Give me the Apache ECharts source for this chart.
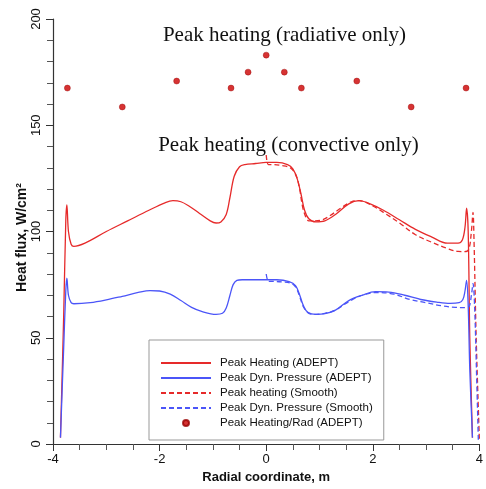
<!DOCTYPE html>
<html>
<head>
<meta charset="utf-8">
<script src="https://cdn.jsdelivr.net/npm/echarts@6/dist/echarts.min.js"></script>
<style>html,body{margin:0;padding:0;background:#fff;}#c{width:486px;height:489px;}</style>
</head>
<body>
<div id="c"></div>
<script>
// Peak Heating (ADEPT)
const heatAdeptX = [-3.86,-3.80,-3.76,-3.74,-3.71,-3.66,-3.61,-3.4,-3.0,-2.6,-2.2,-1.9,-1.75,-1.6,-1.45,-1.25,-1.05,-0.94,-0.85,-0.75,-0.68,-0.6,-0.5,-0.4,-0.2,0.0,0.2,0.4,0.5,0.58,0.65,0.72,0.8,0.93,1.1,1.3,1.55,1.74,1.95,2.2,2.5,2.8,3.1,3.4,3.6,3.68,3.73,3.76,3.79,3.82,3.87];
const heatAdeptY = [3,60,105,112.5,100,94,93,94.5,100,105,110,113.5,114.5,114,112,108.5,105,104,104.5,108,116,126,130.5,131.5,132,132.5,132.5,131.5,129.5,125,118,110,106,104.5,105,108,113,114.5,113,110,105.5,101,97.5,94.5,94.5,96,102,111,100,50,3];
// Peak Dyn. Pressure (ADEPT)
const presAdeptX = [-3.86,-3.80,-3.76,-3.74,-3.71,-3.66,-3.61,-3.3,-3.0,-2.7,-2.4,-2.18,-2.0,-1.8,-1.6,-1.4,-1.2,-0.94,-0.82,-0.75,-0.68,-0.62,-0.55,-0.45,-0.2,0.0,0.2,0.43,0.55,0.63,0.7,0.78,0.93,1.1,1.3,1.55,1.8,2.05,2.3,2.6,2.9,3.2,3.45,3.62,3.69,3.73,3.76,3.79,3.82,3.87];
const presAdeptY = [3,45,72,78,70,66.5,66,66.5,67.8,69.5,71.3,72.2,72,70.5,67.5,64.3,62.3,61,61.5,64,70,75,77,77.3,77.3,77.3,77.3,76.4,74.5,70,65,62,61,61.3,63,67.5,70,71.7,71.5,70,68,66.8,66.2,66.5,68,72,77,65,35,3];
// Peak heating (Smooth)
const heatSmoothX = [0.0,0.04,0.1,0.3,0.45,0.55,0.62,0.68,0.74,0.8,0.9,1.05,1.2,1.4,1.6,1.75,2.0,2.2,2.5,2.8,3.1,3.4,3.6,3.72,3.8,3.85,3.88,3.9,3.94,4.0];
const heatSmoothY = [136,131.5,131.5,131,130,127,121,112,107,105,105,105.5,107.5,111,114,114.5,112,109,104,98.5,95,92,90.6,90.5,91.5,100,109,95,50,2];
// Peak Dyn. Pressure (Smooth)
const presSmoothX = [0.0,0.05,0.15,0.3,0.45,0.55,0.62,0.7,0.8,0.95,1.1,1.3,1.55,1.8,2.1,2.4,2.7,3.0,3.3,3.55,3.7,3.8,3.85,3.88,3.91,3.95,3.98];
const presSmoothY = [80,76.5,76.5,76.3,75.8,74,70,64.5,61.5,61,61.5,63,67,70,71.3,70.5,68,66.5,65,64.3,64.2,64.5,70,75.5,65,30,2];
// Peak Heating/Rad (ADEPT)
const radX = [-3.73,-2.7,-1.68,-0.66,-0.34,0,0.34,0.66,1.70,2.72,3.75];
const radY = [167.5,158.6,170.8,167.5,175,183,175,167.5,170.8,158.6,167.5];

const seriesNames = ['Peak Heating (ADEPT)','Peak Dyn. Pressure (ADEPT)','Peak heating (Smooth)','Peak Dyn. Pressure (Smooth)','Peak Heating/Rad (ADEPT)'];
const xTicks = {min:-4, max:4, interval:2};
const yTicks = {min:0, max:200, interval:50};
const annot1 = 'Peak heating (radiative only)';
const annot2 = 'Peak heating (convective only)';

const zip = (a,b) => a.map((v,i)=>[v,b[i]]);
const RED = '#e62a2a', BLUE = '#4b55f8';

const chart = echarts.init(document.getElementById('c'), null, {renderer:'canvas'});
const lineBase = {type:'line', showSymbol:false, symbol:'none', smooth:0.35, animation:false};
const hideSym = {color:'rgba(0,0,0,0)', borderWidth:0, opacity:0};
chart.setOption({
  animation:false,
  backgroundColor:'#fff',
  grid:{left:53, right:4, top:19, bottom:45},
  xAxis:{
    type:'value', min:xTicks.min, max:xTicks.max, interval:xTicks.interval,
    name:'Radial coordinate, m', nameLocation:'middle', nameGap:27,
    nameTextStyle:{fontFamily:'Liberation Sans', fontWeight:'bold', fontSize:13, color:'#111'},
    axisLine:{onZero:false, lineStyle:{color:'#333', width:1.2}},
    axisTick:{show:true, inside:false, length:7, lineStyle:{color:'#333'}},
    minorTick:{show:true, splitNumber:4, length:6, lineStyle:{color:'#555'}},
    splitLine:{show:false},
    axisLabel:{fontFamily:'Liberation Sans', fontSize:13, color:'#111', margin:9}
  },
  yAxis:{
    type:'value', min:yTicks.min, max:yTicks.max, interval:yTicks.interval,
    name:'Heat flux, W/cm²', nameLocation:'middle', nameGap:24, nameRotate:90, nameMoveOverlap:false,
    nameTextStyle:{fontFamily:'Liberation Sans', fontWeight:'bold', fontSize:14, color:'#111', padding:[0,12,0,0]},
    axisLine:{show:true, onZero:false, lineStyle:{color:'#333', width:1.2}},
    axisTick:{show:true, inside:false, length:7, lineStyle:{color:'#333'}},
    minorTick:{show:true, splitNumber:5, length:6, lineStyle:{color:'#555'}},
    splitLine:{show:false},
    axisLabel:{fontFamily:'Liberation Sans', fontSize:13, color:'#111', rotate:90, margin:10}
  },
  legend:{
    orient:'vertical', left:149, top:340, width:239,
    padding:[17,11,11,11], itemGap:3, itemWidth:50, itemHeight:6,
    borderColor:'#999', borderWidth:1, backgroundColor:'#fff',
    data:[
      {name:seriesNames[0], itemStyle:hideSym},
      {name:seriesNames[1], itemStyle:hideSym},
      {name:seriesNames[2], itemStyle:hideSym},
      {name:seriesNames[3], itemStyle:hideSym},
      {name:seriesNames[4]}
    ],
    textStyle:{fontFamily:'Liberation Sans', fontSize:11.5, color:'#111', padding:[0,0,0,4]}
  },
  graphic:[
    {type:'text', style:{text:annot1, x:284.5, y:35, align:'center', verticalAlign:'middle', font:'21px "Liberation Serif"', fill:'#111'}},
    {type:'text', style:{text:annot2, x:288.5, y:145, align:'center', verticalAlign:'middle', font:'21px "Liberation Serif"', fill:'#111'}}
  ],
  series:[
    Object.assign({}, lineBase, {name:seriesNames[0], data:zip(heatAdeptX,heatAdeptY), lineStyle:{color:RED, width:1.3}, itemStyle:{color:RED}}),
    Object.assign({}, lineBase, {name:seriesNames[1], data:zip(presAdeptX,presAdeptY), lineStyle:{color:BLUE, width:1.3}, itemStyle:{color:BLUE}}),
    Object.assign({}, lineBase, {name:seriesNames[2], data:zip(heatSmoothX,heatSmoothY), lineStyle:{color:RED, width:1.3, type:[5,3]}, itemStyle:{color:RED}}),
    Object.assign({}, lineBase, {name:seriesNames[3], data:zip(presSmoothX,presSmoothY), lineStyle:{color:BLUE, width:1.3, type:[5,3]}, itemStyle:{color:BLUE}}),
    {type:'scatter', name:seriesNames[4], data:zip(radX,radY), symbol:'circle', symbolSize:6, animation:false,
     itemStyle:{color:'#cc0000', borderColor:'#990000', borderWidth:0.5}}
  ]
});
</script>
</body>
</html>
